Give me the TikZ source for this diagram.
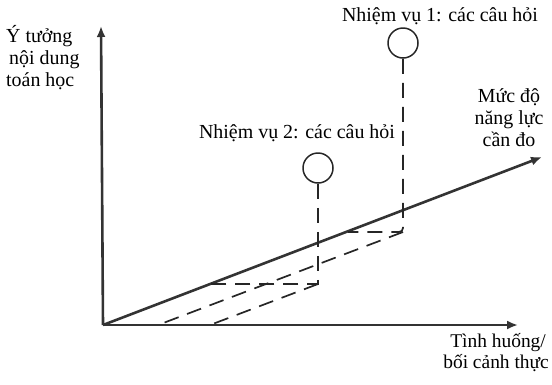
\documentclass[tikz,border=0pt]{standalone}
\usepackage{fontspec}
\setmainfont{Liberation Serif}
\usetikzlibrary{arrows.meta}
\begin{document}
\begin{tikzpicture}[x=1bp,y=-1bp,
 axis/.style={line width=2.6bp, draw=black!80, -{Latex[length=11bp,width=9bp]}},
 dashln/.style={line width=1.7bp, draw=black!85, dash pattern=on 15bp off 9bp},
 qcircle/.style={circle, draw=black!85, line width=1.5bp, minimum size=30bp, inner sep=0pt},
 lbl/.style={font=\fontsize{20}{22}\selectfont, inner sep=0pt},
]
\useasboundingbox (0,0) rectangle (552,384);
\coordinate (O) at (103,325);
\coordinate (Ytop) at (101,26);
\coordinate (Xend) at (518,325);
\coordinate (Dend) at (542,157);
\draw[axis] (O) -- (Ytop);
\draw[axis] (O) -- (Xend);
\draw[axis] (O) -- (Dend);
\node[qcircle] (c1) at (403,43) {};
\node[qcircle] (c2) at (318,168) {};
\coordinate (k1) at (403,232);
\coordinate (h1) at (348,232);
\coordinate (p1) at (158,325);
\coordinate (k2) at (318,284);
\coordinate (h2) at (211,284);
\coordinate (p2) at (210,325);
\draw[dashln, rounded corners=4bp] (c1.south) -- (k1) -- (h1);
\draw[dashln] (k1) -- (p1);
\draw[dashln] (c2.south) -- (k2) -- (h2);
\draw[dashln] (k2) -- (p2);
\node[lbl] (t1) at (440,16) {Nhiệm vụ 1: các câu hỏi};
\node[lbl] (t2) at (297,133) {Nhiệm vụ 2: các câu hỏi};
\node[lbl, align=left, anchor=west] (ty) at (6,58) {Ý tưởng\\\hspace*{3bp}nội dung\\toán học};
\node[lbl, align=center] (tm) at (509,118) {Mức độ\\năng lực\\cần đo};
\node[lbl, align=left, anchor=east, font=\fontsize{19.5}{21}\selectfont] (tt) at (549,353) {\hspace*{7bp}Tình huống/\\bối cảnh thực};
\end{tikzpicture}
\end{document}
